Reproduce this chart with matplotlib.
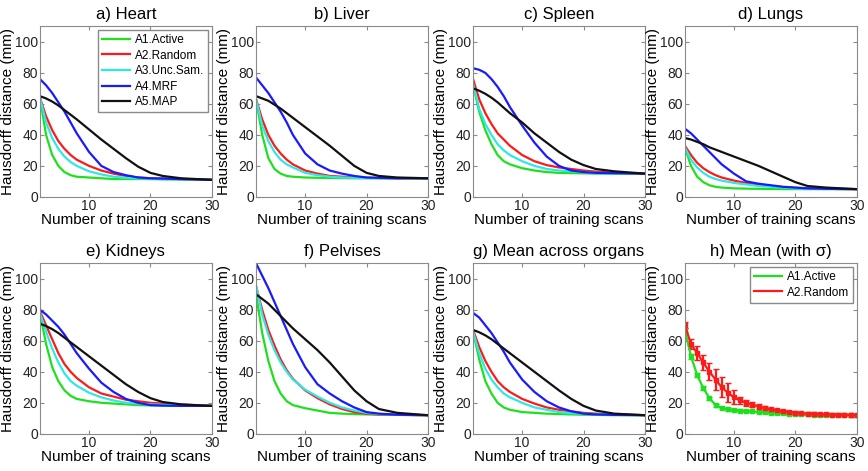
import matplotlib
matplotlib.use('Agg')
import matplotlib.pyplot as plt
from matplotlib.lines import Line2D

plt.rcParams['font.family'] = ['Liberation Sans', 'DejaVu Sans']

# training scan counts where the curves are read
scans = [2, 3, 4, 5, 6, 7, 8, 10, 12, 14, 16, 18, 20, 22, 25, 30]

methods = ['A1.Active', 'A2.Random', 'A3.Unc.Sam.', 'A4.MRF', 'A5.MAP']
titles = ['a) Heart', 'b) Liver', 'c) Spleen', 'd) Lungs',
          'e) Kidneys', 'f) Pelvises', 'g) Mean across organs']

heart_a1 = [64, 40, 27, 20, 16, 14, 13, 12.5, 12, 11.5, 11.5, 11.5, 11.5, 11.3, 11.2, 11]
heart_a2 = [64, 52, 43, 36, 31, 27, 24, 20, 17, 15, 13.5, 12.5, 12, 11.8, 11.5, 11]
heart_a3 = [64, 48, 38, 31, 26, 22.5, 20, 16.5, 14.5, 13, 12.3, 12, 11.8, 11.5, 11.3, 11]
heart_a4 = [76, 72, 67, 61, 55, 48, 41, 29, 20, 16, 14, 12.5, 12, 11.8, 11.5, 11]
heart_a5 = [65, 63.5, 61.5, 59, 56, 53, 50, 43.5, 37, 31, 25, 19.5, 15.5, 13.5, 12, 11]

liver_a1 = [63, 40, 25, 18, 15, 13.5, 13, 12.5, 12.3, 12.2, 12.1, 12, 12, 12, 12, 12]
liver_a2 = [63, 50, 40, 33, 28, 24, 21, 17, 15, 13.5, 13, 12.5, 12.3, 12.2, 12, 12]
liver_a3 = [63, 46, 36, 29, 24, 21, 19, 15.5, 14, 13, 12.5, 12.3, 12.2, 12, 12, 12]
liver_a4 = [77, 72, 67, 61, 55, 48, 40, 28, 21, 17, 15, 13.5, 12.5, 12.3, 12, 12]
liver_a5 = [65, 63.5, 62, 59.5, 57, 54, 51, 45, 39, 33, 26.5, 20, 15.5, 13.5, 12.5, 12]

spleen_a1 = [72, 55, 43, 34, 27, 23, 21, 18.5, 17, 16, 15.5, 15.3, 15.2, 15, 15, 15]
spleen_a2 = [76, 63, 54, 47, 41, 37, 33, 27, 23, 20.5, 19, 18, 17, 16.3, 15.5, 15]
spleen_a3 = [73, 57, 47, 40, 34, 30, 27, 23, 20, 18, 17, 16.5, 16, 15.5, 15.2, 15]
spleen_a4 = [83, 82, 80, 76, 71, 65, 58, 46, 35, 26, 20, 17, 16, 15.5, 15.3, 15]
spleen_a5 = [70, 68.5, 66.5, 64, 61, 57.5, 54, 48, 41, 35, 29, 24, 20.5, 18, 16.5, 15]

lungs_a1 = [32, 20, 13, 9.5, 7.5, 6.5, 6, 5.5, 5.3, 5.2, 5.1, 5, 5, 5, 5, 5]
lungs_a2 = [33, 27, 22, 18.5, 16, 14, 12.5, 10.5, 9, 8, 7, 6.3, 5.8, 5.5, 5.2, 5]
lungs_a3 = [32, 24, 19, 15.5, 13, 11.5, 10.5, 9, 8, 7, 6.5, 6, 5.5, 5.3, 5.1, 5]
lungs_a4 = [44, 41, 37, 33, 29, 25, 21, 15, 10, 8.5, 7.5, 6.5, 6, 5.5, 5.2, 5]
lungs_a5 = [38, 37, 35.5, 34, 32, 30.5, 29, 26, 23, 20, 16.5, 13, 9.5, 7, 6, 5]

kidneys_a1 = [78, 58, 43, 34, 28, 24.5, 22.5, 21, 20, 19.5, 19, 18.5, 18.3, 18.2, 18, 18]
kidneys_a2 = [79, 70, 61, 52, 45, 40, 36, 30, 26, 24, 22, 21, 20, 19.5, 18.8, 18]
kidneys_a3 = [78, 66, 55, 46, 39, 34, 31, 26.5, 23.5, 21.5, 20, 19.5, 19, 18.7, 18.3, 18]
kidneys_a4 = [80, 77, 73, 69, 64, 58, 52, 42, 33, 27, 22.5, 20, 18.5, 18.2, 18, 18]
kidneys_a5 = [71, 69.5, 67.5, 65, 62, 59, 56, 50, 44, 38, 32, 27, 23, 20.5, 19, 18]

pelvis_a1 = [90, 65, 47, 34, 26, 21, 18.5, 16.5, 15, 13.5, 13, 12.7, 12.5, 12.3, 12.2, 12]
pelvis_a2 = [95, 80, 67, 57, 48, 41, 35.5, 28, 23, 19, 16, 14, 13, 12.5, 12.2, 12]
pelvis_a3 = [96, 77, 64, 54, 46, 40, 35, 28.5, 24, 20, 17, 15, 13.5, 12.8, 12.3, 12]
pelvis_a4 = [110, 102, 94, 85, 76, 67, 58, 43, 32, 26, 21, 17, 14, 13, 12.3, 12]
pelvis_a5 = [90, 87, 84, 80, 76, 72, 68, 61, 54, 46, 37, 28, 21, 16, 13.5, 12]

mean_a1 = [66, 48, 34, 26, 20, 17, 15.5, 14, 13.5, 13, 12.7, 12.5, 12.3, 12.2, 12, 12]
mean_a2 = [67, 56, 47, 40, 34, 30, 27, 22.5, 19.5, 17, 15.5, 14.5, 13.5, 13, 12.5, 12]
mean_a3 = [66, 52, 42, 35, 30, 26, 23.5, 20, 17, 15.5, 14, 13.3, 13, 12.6, 12.3, 12]
mean_a4 = [78, 75, 70, 65, 59, 53, 46, 35, 27, 21, 17, 14.5, 13, 12.5, 12.2, 12]
mean_a5 = [67, 65.5, 63.5, 61, 58, 55, 52, 46, 40, 34, 28, 22.5, 18, 15, 13, 12]

# panel h: mean and std for every scan count
scans_h = list(range(2, 31))
active_mean = [67, 50, 38, 29.5, 23, 18.5, 16.7, 15.8, 15.3, 15, 14.7, 14.4, 14.1, 13.8, 13.5,
               13.3, 13.1, 12.9, 12.7, 12.6, 12.5, 12.4, 12.3, 12.2, 12.2, 12.1, 12.1, 12, 12]
active_std = [1.5, 1.5, 1.5, 1.2, 1, 1, 0.8, 0.8, 0.8, 0.7, 0.7, 0.6, 0.6, 0.6, 0.5,
              0.5, 0.5, 0.5, 0.5, 0.5, 0.5, 0.5, 0.5, 0.5, 0.5, 0.5, 0.5, 0.5, 0.5]
random_mean = [70, 58, 52, 46, 40, 35, 30, 26.5, 23.5, 21.5, 20, 18.8, 17.6, 16.6, 15.8,
               15.1, 14.5, 14, 13.6, 13.3, 13, 12.8, 12.6, 12.5, 12.4, 12.3, 12.2, 12.1, 12]
random_std = [2, 3, 4.5, 5, 5.5, 6.5, 6.5, 6, 4.5, 2.5, 1.8, 1.5, 1.3, 1.2, 1,
              1, 1, 1, 1, 1, 1, 1, 1, 1, 1, 1, 1, 1, 1]

colors = ['#1ee01e', '#ff1a1a', '#2ee8e8', '#1a1aff', '#111111']

panels = [
    [heart_a1, heart_a2, heart_a3, heart_a4, heart_a5],
    [liver_a1, liver_a2, liver_a3, liver_a4, liver_a5],
    [spleen_a1, spleen_a2, spleen_a3, spleen_a4, spleen_a5],
    [lungs_a1, lungs_a2, lungs_a3, lungs_a4, lungs_a5],
    [kidneys_a1, kidneys_a2, kidneys_a3, kidneys_a4, kidneys_a5],
    [pelvis_a1, pelvis_a2, pelvis_a3, pelvis_a4, pelvis_a5],
    [mean_a1, mean_a2, mean_a3, mean_a4, mean_a5],
]

fig = plt.figure(figsize=(8.68, 4.71), dpi=100)

lefts = [0.046, 0.295, 0.545, 0.789]
bottoms = [0.582, 0.079]
w, h = 0.198, 0.362


def style(ax, title):
    ax.set_xlim(2, 30)
    ax.set_ylim(0, 110)
    ax.set_xticks([10, 20, 30])
    ax.set_yticks([0, 20, 40, 60, 80, 100])
    ax.tick_params(direction='in', top=True, right=True, length=3,
                   labelsize=10, labelcolor='#222222', color='#8a8a8a', pad=1.5)
    for s in ax.spines.values():
        s.set_color('#8a8a8a')
    ax.set_title(title, fontsize=12, pad=5)
    ax.set_xlabel('Number of training scans', fontsize=11, labelpad=0)
    ax.set_ylabel('Hausdorff distance (mm)', fontsize=11, labelpad=0)


def legend(ax, handles, labels):
    leg = ax.legend(handles, labels, loc='upper right', fontsize=8.5, handlelength=2.4,
                    borderaxespad=0.3, fancybox=False, framealpha=1,
                    labelspacing=0.3, handletextpad=0.4, borderpad=0.35)
    leg.get_frame().set_edgecolor('#8a8a8a')


for i, series in enumerate(panels):
    ax = fig.add_axes([lefts[i % 4], bottoms[i // 4], w, h])
    lines = []
    for vals, c in zip(series, colors):
        lines += ax.plot(scans, vals, color=c, lw=1.6)
    style(ax, titles[i])
    if i == 0:
        legend(ax, lines, methods)

ax = fig.add_axes([lefts[3], bottoms[1], w, h])
ax.errorbar(scans_h, active_mean, yerr=active_std, color=colors[0], lw=1.6,
            marker='s', ms=2.8, capsize=2)
ax.errorbar(scans_h, random_mean, yerr=random_std, color=colors[1], lw=1.6,
            marker='s', ms=2.8, capsize=2)
style(ax, 'h) Mean (with σ)')
legend(ax, [Line2D([], [], color=colors[0], lw=1.6), Line2D([], [], color=colors[1], lw=1.6)],
       methods[:2])

fig.savefig('out.png', dpi=100)
